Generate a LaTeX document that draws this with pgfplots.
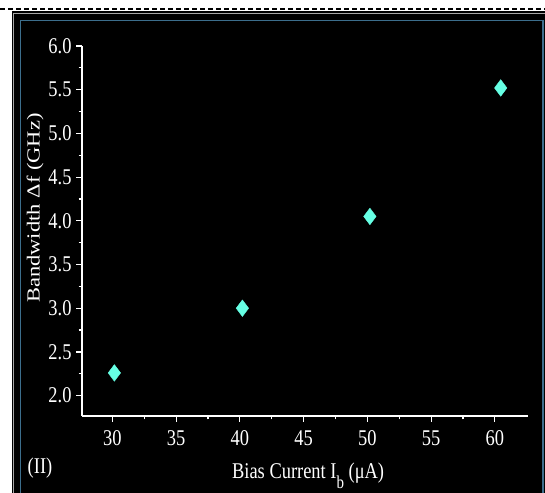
\documentclass[border=0pt]{standalone}
\usepackage{fontspec}
\setmainfont{Liberation Serif}
\usepackage{graphicx}
\usepackage{pgfplots}
\pgfplotsset{compat=1.18}
\definecolor{aqua}{RGB}{102,255,228}
\definecolor{frameblue}{RGB}{60,110,140}
\newcommand\vs[1]{\scalebox{1}[1.22]{#1}}
\begin{document}
\begin{tikzpicture}[x=1bp,y=1bp]
\path[use as bounding box] (0,0) rectangle (545,493);
\fill[white] (0,0) rectangle (545,493);
\draw[black, dash pattern=on 5bp off 3bp, line width=1.2bp] (0,484) -- (545,484);
\fill[black] (12,0) rectangle (545,481.5);
\draw[gray!70, line width=1.5bp] (13.5,0) -- (13.5,479.5) -- (545,479.5);
\draw[frameblue, line width=1.2bp] (20.5,0) -- (20.5,472.5) -- (543,472.5) -- (543,0);
\begin{axis}[
  at={(82bp,77bp)}, anchor=south west,
  scale only axis, width=446bp, height=370bp,
  xmin=27.62, xmax=62.6, ymin=1.767, ymax=6.0,
  axis x line*=bottom, axis y line*=left,
  axis line style={white, line width=1.6bp, -},
  every tick/.style={white, line width=1.2bp},
  tick align=outside,
  major tick length=6bp, minor tick length=3.5bp,
  xtick={30,35,...,60}, ytick={2.0,2.5,...,6.0},
  minor x tick num=1, minor y tick num=1,
  /pgf/number format/assume math mode=true,
  tick label style={white, font=\fontsize{18.5}{20}\selectfont},
  xticklabel={\vs{\pgfmathprintnumber{\tick}}},
  yticklabel={\vs{\pgfmathprintnumber[fixed,fixed zerofill,precision=1]{\tick}}},
  xticklabel style={yshift=-5bp},
  yticklabel style={xshift=-1bp},
  every axis x label/.style={at={(axis description cs:0.507,-0.170)}, anchor=base, white, font=\fontsize{18.5}{20}\selectfont},
  every axis y label/.style={at={(axis description cs:-0.105,0.562)}, anchor=center, rotate=90, white, font=\fontsize{18.5}{20}\selectfont},
  xlabel={\vs{Bias Current I\raisebox{-0.42em}{\fontsize{15}{15}\selectfont b} (μA)}},
  ylabel={\scalebox{1.22}[1]{Bandwidth Δf (GHz)}},
  clip=false,
]
\addplot[only marks, mark=diamond*, mark size=8.3bp, mark options={fill=aqua, draw=aqua, line width=0.4bp}]
  coordinates {(30.16,2.26) (40.2,3.0) (50.2,4.05) (60.46,5.52)};
\end{axis}
\node[white, font=\fontsize{18.5}{20}\selectfont, anchor=center] at (40,25) {\vs{(II)}};
\end{tikzpicture}
\end{document}
